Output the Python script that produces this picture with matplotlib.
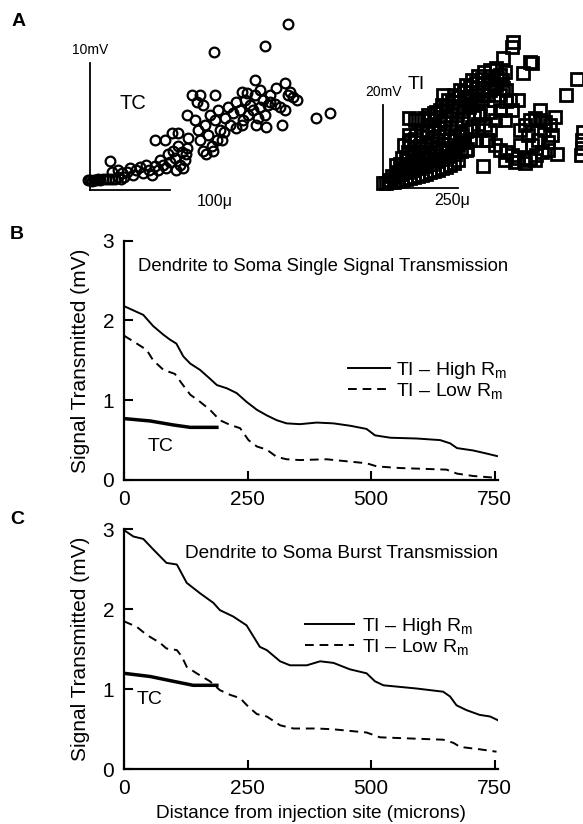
import numpy as np
import matplotlib
matplotlib.use("Agg")
import matplotlib.pyplot as plt

plt.rcParams['font.family'] = ['Liberation Sans', 'DejaVu Sans']
plt.rcParams['mathtext.fontset'] = 'custom'
plt.rcParams['mathtext.rm'] = 'Liberation Sans'
plt.rcParams['mathtext.it'] = 'Liberation Sans'

###############################################################################
# Panel A: amplitude vs distance scatter, TC cells (microns, mV)
tc_x = [-2.5, 0, 2.5, 5, 7.5, 10, 12.5, 16, 20, 24, 27.5, 31, 35, 39, 42.5,
        25, 27.5, 35, 40, 46, 50, 54, 57.5, 62.5, 66, 70, 74, 77.5, 81, 85,
        81, 94, 102.5, 110, 87.5, 91, 97.5, 100, 104, 106, 110, 112.5, 115, 119, 121, 122.5, 116, 107.5, 95, 120,
        121, 127.5, 137.5, 156, 134, 141, 131, 135, 137.5, 141, 144, 147.5, 150, 152.5, 156, 160, 162.5, 165,
        169, 172.5, 175, 145, 154, 159, 167.5,
        179, 182.5, 187.5, 191, 194, 197.5, 200, 204, 206, 210, 212.5, 216, 219, 222.5, 190, 207.5, 182.5,
        196, 190, 206, 244, 250, 254, 259, 247.5, 225, 231, 237.5, 244, 220, 240, 282.5, 300, 247.5, 219, 155,
        212.5, 225, 232.5]
tc_y = [0.8, 0.8, 0.7, 0.8, 0.8, 0.9, 0.8, 0.9, 0.9, 0.9, 0.9, 0.9, 1.0, 0.9, 1.0,
        2.3, 1.4, 1.6, 1.3, 1.4, 1.7, 1.2, 1.6, 1.8, 1.3, 2.0, 1.6, 1.2, 1.9, 1.6,
        3.9, 3.9, 4.5, 4.5, 2.4, 2.0, 2.8, 2.2, 3.1, 2.5, 3.5, 2.0, 3.0, 2.4, 3.3, 4.1, 1.7, 1.6, 1.7, 2.8,
        5.9, 7.5, 7.5, 7.5, 6.9, 6.7, 5.5, 4.7, 3.9, 3.1, 5.1, 4.3, 5.9, 3.5, 5.5, 6.3, 4.7, 3.9,
        5.7, 6.5, 5.1, 2.8, 3.1, 3.9, 4.6,
        6.1, 6.9, 6.3, 5.5, 7.1, 5.9, 6.7, 6.3, 7.5, 5.7, 6.5, 7.1, 5.9, 6.7, 5.1, 5.1, 4.9,
        7.6, 7.7, 8.7, 8.4, 7.7, 7.3, 7.1, 7.5, 6.9, 6.8, 6.5, 6.3, 5.0, 5.1, 5.7, 6.1, 13.1, 11.3, 10.9,
        7.9, 7.5, 8.0]

# Panel A: TI cells (microns, mV)
ti_x = [0, 10, 23, 37, 50, 63, 77, 90, 103, 117, 130, 143, 157, 170, 183, 197, 210, 223, 237, 250,
        30, 50, 70, 90, 110, 130, 150, 170, 190, 210, 230, 250, 270, 290,
        43, 63, 83, 103, 123, 143, 163, 183, 203, 223, 243, 263, 283, 303,
        70, 90, 110, 130, 150, 170, 190, 210, 230, 250, 270, 290, 310, 330,
        117, 137, 157, 177, 197, 217, 237, 257, 277, 297, 317, 337, 357, 377,
        277, 297, 317, 337, 357, 377, 397, 407, 390, 350, 370, 390, 410, 423, 430, 390, 357, 323, 340, 373,
        407, 317, 290, 263, 240, 277, 310, 343, 357,
        350, 373, 390, 410, 430, 450, 470, 490, 510, 530, 550, 407, 440, 473, 507,
        457, 473, 490, 507, 523, 540, 557, 483, 517, 550, 457, 497, 537, 563, 523,
        433, 430, 400, 490, 497, 467, 647, 610, 200, 87, 87, 580, 333, 573, 450, 107, 157,
        660, 663, 663, 667,
        20, 40, 60, 80, 100, 120, 140, 160, 180, 200, 220, 240, 260, 280,
        55, 75, 95, 115, 135, 155, 175, 195, 215, 235, 255, 275, 295, 315,
        85, 105, 125, 145, 165, 185, 205, 225, 245, 265, 285, 305, 325, 345,
        150, 170, 190, 210, 230, 250, 270, 290, 310, 330, 360, 380, 400, 410]
ti_y = [1.2, 1.2, 1.4, 1.4, 1.7, 1.9, 2.2, 2.4, 2.7, 2.9, 3.1, 3.4, 3.9, 4.1, 4.3, 4.8, 5.1, 5.5, 6.0, 6.7,
        2.9, 3.9, 4.8, 5.5, 6.3, 6.7, 7.2, 8.0, 8.7, 9.2, 9.6, 10.4, 11.1, 11.6,
        5.5, 7.2, 8.7, 9.6, 10.1, 10.8, 11.6, 12.5, 13.5, 14.5, 15.4, 16.4, 16.9, 17.8,
        10.4, 11.6, 12.8, 14.0, 15.2, 15.2, 16.4, 17.6, 18.8, 19.8, 21.2, 22.2, 23.1, 24.1,
        16.4, 16.9, 16.4, 18.3, 20.0, 21.2, 22.4, 23.6, 24.8, 26.0, 27.0, 28.0, 28.4, 28.9,
        21.2, 20.0, 21.2, 22.4, 23.6, 24.8, 26.0, 28.0, 27.2, 26.0, 21.2, 22.4, 23.6, 21.2, 18.8, 18.8, 18.3, 17.6, 15.2, 16.4,
        16.4, 14.0, 14.0, 12.8, 11.6, 9.2, 11.6, 11.6, 14.0,
        11.6, 10.4, 9.2, 8.7, 8.0, 7.2, 6.7, 7.2, 8.0, 8.7, 9.2, 6.7, 6.3, 6.0, 6.7,
        14.0, 15.2, 16.4, 16.9, 16.4, 15.9, 15.2, 12.8, 11.6, 11.1, 10.4, 10.4, 14.0, 12.8, 18.8,
        35.2, 34.0, 31.3, 30.4, 30.1, 27.7, 26.3, 22.4, 22.4, 16.9, 12.8, 8.2, 5.3, 17.1, 21.2, 16.4, 16.9,
        8.0, 9.6, 11.6, 13.5,
        2.0, 2.6, 3.3, 3.9, 4.4, 4.9, 5.4, 5.9, 6.5, 7.1, 7.6, 8.2, 8.8, 9.4,
        5.7, 6.8, 7.6, 8.2, 8.7, 9.3, 10.0, 10.7, 11.5, 12.3, 13.1, 13.8, 14.6, 15.4,
        11.2, 11.9, 12.6, 13.2, 13.8, 14.4, 15.6, 16.6, 17.6, 18.6, 19.6, 20.5, 21.4, 22.3,
        17.5, 18.0, 18.8, 19.7, 20.8, 22.0, 23.2, 24.3, 25.3, 26.3, 27.0, 26.5, 24.2, 21.0]

tc_bar = (100, 10)   # microns, mV
ti_bar = (250, 20)

###############################################################################
# Panels B and C: signal transmitted vs distance (microns, mV)
b_high_x = [0, 39, 59, 80, 93, 106, 120, 134, 154, 174, 188, 208, 228, 248, 269, 289, 309, 329, 356,
            390, 424, 458, 491, 508, 539, 593, 640, 660, 674, 707, 735, 755]
b_high_y = [2.18, 2.07, 1.93, 1.82, 1.76, 1.71, 1.55, 1.46, 1.38, 1.27, 1.19, 1.15, 1.09, 0.98, 0.88,
            0.81, 0.75, 0.71, 0.70, 0.72, 0.71, 0.68, 0.64, 0.56, 0.53, 0.52, 0.50, 0.46, 0.40, 0.37, 0.33, 0.30]
b_low_x = [0, 26, 46, 59, 80, 103, 117, 134, 154, 174, 194, 215, 235, 252, 269, 289, 309, 329, 356,
           410, 458, 491, 512, 559, 653, 674, 707, 748]
b_low_y = [1.81, 1.71, 1.63, 1.50, 1.38, 1.33, 1.21, 1.07, 0.98, 0.88, 0.75, 0.69, 0.65, 0.50, 0.42,
           0.38, 0.29, 0.26, 0.25, 0.26, 0.23, 0.21, 0.17, 0.15, 0.13, 0.08, 0.05, 0.03]
b_tc_x = [0, 53, 100, 134, 188]
b_tc_y = [0.77, 0.74, 0.69, 0.66, 0.66]

c_high_x = [0, 19, 39, 59, 86, 107, 127, 154, 181, 194, 221, 248, 262, 275, 289, 316, 336, 370,
            397, 424, 457, 491, 508, 525, 592, 646, 660, 673, 693, 720, 741, 758]
c_high_y = [2.99, 2.91, 2.88, 2.75, 2.58, 2.56, 2.33, 2.20, 2.08, 1.99, 1.91, 1.80, 1.66, 1.53, 1.49,
            1.35, 1.30, 1.30, 1.35, 1.33, 1.25, 1.20, 1.10, 1.05, 1.01, 0.97, 0.91, 0.80, 0.74, 0.68, 0.66, 0.61]
c_low_x = [0, 26, 46, 73, 86, 107, 117, 127, 147, 174, 194, 215, 235, 252, 269, 289, 316, 343, 390,
           424, 457, 491, 518, 559, 646, 667, 680, 720, 754]
c_low_y = [1.85, 1.78, 1.68, 1.58, 1.51, 1.49, 1.41, 1.28, 1.20, 1.10, 0.99, 0.93, 0.89, 0.78, 0.69,
           0.66, 0.55, 0.51, 0.51, 0.50, 0.48, 0.46, 0.40, 0.39, 0.37, 0.33, 0.28, 0.25, 0.22]
c_tc_x = [0, 53, 100, 140, 188]
c_tc_y = [1.20, 1.16, 1.10, 1.05, 1.05]

xticks = [0, 250, 500, 750]
yticks = [0, 1, 2, 3]

###############################################################################
W, H = 583, 824
fig = plt.figure(figsize=(W / 100, H / 100), dpi=100)


def px_axes(left, top, right, bottom):
    return fig.add_axes([left / W, 1 - bottom / H, (right - left) / W, (bottom - top) / H])


# scatter TC: corner of scale bar at px (90,190); 0.8 px/micron, 12.7 px/mV
ax_tc = px_axes(60, 0, 335, 215)
ax_tc.set_xlim((60 - 90) * 1.25, (335 - 90) * 1.25)
ax_tc.set_ylim((190 - 215) / 12.7, 190 / 12.7)
ax_tc.axis('off')
ax_tc.plot(tc_x, tc_y, 'o', ms=7, mfc='none', mec='black', mew=1.6, clip_on=False)
ax_tc.plot([0, 0], [0, tc_bar[1]], color='black', lw=1.3)
ax_tc.plot([0, tc_bar[0]], [0, 0], color='black', lw=1.3)
ax_tc.text(0, 10.5, '10mV', ha='center', va='bottom', fontsize=10)
ax_tc.text(134, -0.87, '100\u03bc', ha='left', va='center', fontsize=11.5)
ax_tc.text(37.5, 6.85, 'TC', ha='left', va='center', fontsize=14.5)

# scatter TI: corner at px (383,188); 0.3 px/micron, 4.15 px/mV
ax_ti = px_axes(340, 0, 583, 215)
ax_ti.set_xlim((340 - 383) / 0.3, (583 - 383) / 0.3)
ax_ti.set_ylim((188 - 215) / 4.15, 188 / 4.15)
ax_ti.axis('off')
ax_ti.plot(ti_x, ti_y, 's', ms=8.5, mfc='none', mec='black', mew=2.0)
ax_ti.plot([0, 0], [0, ti_bar[1]], color='black', lw=1.3)
ax_ti.plot([0, ti_bar[0]], [0, 0], color='black', lw=1.3)
ax_ti.text(0, 21.4, '20mV', ha='center', va='bottom', fontsize=10)
ax_ti.text(170, -3.1, '250\u03bc', ha='left', va='center', fontsize=11.5)
ax_ti.text(83, 24.9, 'TI', ha='left', va='center', fontsize=14)


def style(ax):
    ax.set_xlim(0, 757)
    ax.set_ylim(0, 3)
    ax.spines['top'].set_visible(False)
    ax.spines['right'].set_visible(False)
    for s in ('left', 'bottom'):
        ax.spines[s].set_linewidth(1.6)
    ax.set_xticks(xticks)
    ax.set_yticks(yticks)
    ax.tick_params(direction='in', length=6.5, width=1.5, labelsize=15, pad=7)
    ax.set_ylabel('Signal Transmitted (mV)', fontsize=15, labelpad=9)


hi_label = 'TI \u2013 High R$_\\mathrm{m}$'
lo_label = 'TI \u2013 Low R$_\\mathrm{m}$'

axB = px_axes(124, 240.7, 498, 480)
style(axB)
axB.plot(b_high_x, b_high_y, color='black', lw=1.4, label=hi_label)
axB.plot(b_low_x, b_low_y, color='black', lw=1.4, dashes=(4.5, 3), label=lo_label)
axB.plot(b_tc_x, b_tc_y, color='black', lw=2.5)
axB.text(47, 0.42, 'TC', fontsize=14, va='center')
axB.text(0.0375, 0.891, 'Dendrite to Soma Single Signal Transmission', transform=axB.transAxes,
         fontsize=13.3, va='center')
axB.legend(loc='center left', bbox_to_anchor=(0.598, 0.4165), frameon=False, fontsize=14,
           handlelength=2.2, handletextpad=0.3, labelspacing=0.0, borderpad=0, borderaxespad=0)

axC = px_axes(124, 529.3, 498, 769.3)
style(axC)
axC.plot(c_high_x, c_high_y, color='black', lw=1.4, label=hi_label)
axC.plot(c_low_x, c_low_y, color='black', lw=1.4, dashes=(4.5, 3), label=lo_label)
axC.plot(c_tc_x, c_tc_y, color='black', lw=2.5)
axC.text(26, 0.87, 'TC', fontsize=14, va='center')
axC.text(0.1635, 0.901, 'Dendrite to Soma Burst Transmission', transform=axC.transAxes,
         fontsize=13.7, va='center')
axC.legend(loc='center left', bbox_to_anchor=(0.485, 0.5525), frameon=False, fontsize=14,
           handlelength=2.5, handletextpad=0.4, labelspacing=0.0, borderpad=0, borderaxespad=0)
axC.set_xlabel('Distance from injection site (microns)', fontsize=13.7, labelpad=5)

fig.text(12 / W, 1 - 22 / H, 'A', fontsize=14, fontweight='bold', va='center')
fig.text(10 / W, 1 - 235 / H, 'B', fontsize=14, fontweight='bold', va='center')
fig.text(10 / W, 1 - 520 / H, 'C', fontsize=14, fontweight='bold', va='center')

fig.savefig('out.png', dpi=100)
